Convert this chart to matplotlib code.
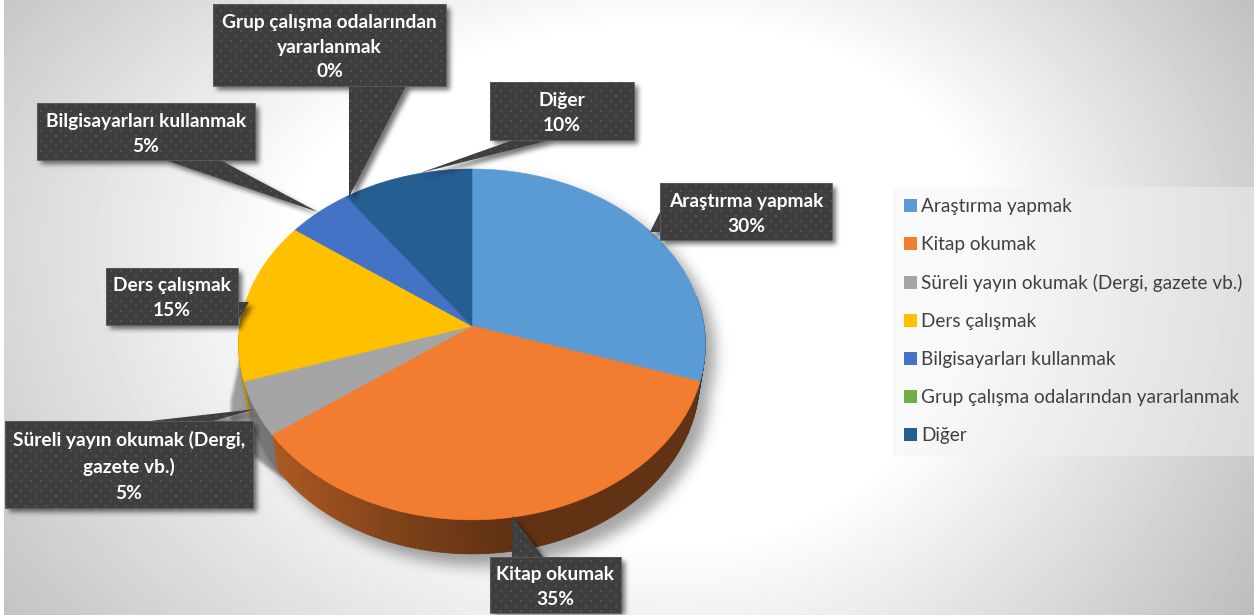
import numpy as np
import matplotlib
matplotlib.use("Agg")
import matplotlib.pyplot as plt
from matplotlib.patches import Polygon, Patch
from matplotlib.path import Path

# ---- data ----
categories = ["Araştırma yapmak", "Kitap okumak", "Süreli yayın okumak (Dergi, gazete vb.)",
              "Ders çalışmak", "Bilgisayarları kullanmak",
              "Grup çalışma odalarından yararlanmak", "Diğer"]
values = [30, 35, 5, 15, 5, 0, 10]
colors = ["#5B9BD5", "#F27D30", "#A5A5A5", "#FFC000", "#4472C4", "#70AD47", "#255E91"]
label_names = ["Araştırma yapmak", "Kitap okumak", "Süreli yayın okumak (Dergi,\ngazete vb.)",
               "Ders çalışmak", "Bilgisayarları kullanmak",
               "Grup çalışma odalarından\nyararlanmak", "Diğer"]

W, H = 1254, 615
plt.rcParams['font.family'] = ['Lato', 'DejaVu Sans']

# ---- layout: callout boxes (x0, y0, x1, y1), pointer polygon points ----
boxes = [(660, 183, 832, 240), (490, 557, 621, 613), (5, 421, 253, 508),
         (106, 268, 238, 325), (37, 103, 255, 160), (213, 4, 446, 86), (490, 82, 634, 140)]
pointers = [[(660, 212), (650, 232), (660, 232)],
            [(512, 557), (512, 516), (543, 557)],
            [(150, 421), (256, 409), (213, 421)],
            [(238, 302), (249, 302), (238, 320)],
            [(165, 160), (318, 212), (220, 160)],
            [(349, 86), (349, 197), (406, 86)],
            [(513, 140), (420, 173), (550, 140)]]
line_gap = [25, 25, 27, 25, 25, 24.5, 25]

# pie projection (tilted disc, seen in perspective)
px, py, bx, ay, k, depth, shrink = 472, 326, 232, 173.5, -0.105, 34, 0.975


def project(theta):
    u, v = np.sin(theta), -np.cos(theta)
    d = 1 + k * v
    return px + bx * u / d, py + ay * v / d


def gaussian(img, sigma, pad=40):
    big = np.pad(img, pad)
    fy = np.fft.fftfreq(big.shape[0])[:, None]
    fx = np.fft.rfftfreq(big.shape[1])[None, :]
    g = np.exp(-2 * (np.pi * sigma) ** 2 * (fx ** 2 + fy ** 2))
    out = np.fft.irfft2(np.fft.rfft2(big) * g, s=big.shape)
    return out[pad:-pad, pad:-pad]


yy, xx = np.mgrid[0:H, 0:W]
grid = np.column_stack([xx.ravel() + .5, yy.ravel() + .5])


def mask(points):
    return Path(points).contains_points(grid).reshape(H, W).astype(float)


fig = plt.figure(figsize=(W / 100, H / 100), dpi=100)
ax = fig.add_axes([0, 0, 1, 1])
ax.set_xlim(0, W)
ax.set_ylim(H, 0)
ax.axis("off")
ext = (0, W, H, 0)

# background radial gradient
dx = np.where(xx < 680, 0.78, 1.0) * (xx - 680)
dy = np.where(yy < 240, 1.4, 1.0) * (yy - 240)
dist = np.hypot(dx, dy)
bg = np.clip(255 - 0.173 * np.maximum(dist - 300, 0), 0, 255)
bg[:, :4] = 255
ax.imshow(bg, cmap="gray", vmin=0, vmax=255, extent=ext, aspect="auto", zorder=0,
          interpolation="nearest")

# pie geometry
fractions = np.array(values) / np.sum(values)
edges = np.concatenate([[0], np.cumsum(fractions)]) * 2 * np.pi
th = np.linspace(0, 2 * np.pi, 361)
cx, cy = project(th)

# soft shadow under the pie
body = np.column_stack([cx, cy])
low = np.column_stack([px + (cx - px) * shrink, cy + depth])
sh = np.clip(mask(body + [10, 10]) + mask(low + [10, 12]), 0, 1)
band = mask([(243, 345), (231, 400), (232, 440), (285, 480), (285, 345)])
shadow = np.clip(0.36 * gaussian(sh, 7) + 0.35 * gaussian(band, 1.5), 0, 1)
rgba = np.zeros((H, W, 4))
rgba[..., 3] = shadow
ax.imshow(rgba, extent=ext, aspect="auto", zorder=1)

# side wall of the pie
dark_x = np.array([238, 280, 400, 500, 710])
dark_f = np.array([0.74, 0.70, 0.52, 0.40, 0.40])
tt = np.radians(np.arange(80, 280, 1.0))
for t0, t1 in zip(tt[:-1], tt[1:]):
    mid = (t0 + t1) / 2
    idx = min(np.searchsorted(edges, mid, side="right") - 1, len(values) - 1)
    x0, y0 = project(t0)
    x1, y1 = project(t1)
    f = np.interp((x0 + x1) / 2, dark_x, dark_f)
    col = np.array(matplotlib.colors.to_rgb(colors[idx])) * f
    ax.add_patch(Polygon([(x0, y0), (x1, y1),
                          (px + (x1 - px) * shrink, y1 + depth),
                          (px + (x0 - px) * shrink, y0 + depth)],
                         closed=True, fc=col, ec=col, lw=0.6, zorder=2))

# top surface
for a0, a1, c in zip(edges[:-1], edges[1:], colors):
    if a1 <= a0:
        continue
    t = np.linspace(a0, a1, max(int(np.degrees(a1 - a0)), 2))
    xs, ys = project(t)
    ax.add_patch(Polygon(np.vstack([[(px, py)], np.column_stack([xs, ys])]), closed=True,
                         fc=c, ec=c, lw=0.4, zorder=3))

# callouts
shapes = []
for b in boxes:
    shapes.append([(b[0], b[1]), (b[2], b[1]), (b[2], b[3]), (b[0], b[3])])
cs = np.zeros((H, W))
for s, p in zip(shapes, pointers):
    cs = np.maximum(cs, mask(s))
    cs = np.maximum(cs, mask(p))
shifted = np.zeros_like(cs)
shifted[4:, 4:] = cs[:-4, :-4]
cs_sh = gaussian(shifted, 2.5)
rgba = np.zeros((H, W, 4))
rgba[..., 3] = np.clip(0.55 * cs_sh, 0, 1)
ax.imshow(rgba, extent=ext, aspect="auto", zorder=4)

pat = np.full((H, W, 3), 0x3E / 255.0)
dots = ((yy % 10 < 2) & (xx % 10 < 2)) | (((yy + 5) % 10 < 2) & ((xx + 5) % 10 < 2))
pat[dots] = 0x52 / 255.0
for s, p in zip(shapes, pointers):
    for poly in (s, p):
        clip = Polygon(poly, closed=True, transform=ax.transData, fc="none", ec="none")
        ax.add_patch(clip)
        im = ax.imshow(pat, extent=ext, aspect="auto", zorder=5, interpolation="bilinear")
        im.set_clip_path(clip)
    ax.add_patch(Polygon(s, closed=True, fc="none", ec="#5c5c5c", lw=0.6, zorder=5.5))

for name, val, b, gap in zip(label_names, values, boxes, line_gap):
    lines = name.split("\n") + [f"{val}%"]
    mid = (b[1] + b[3]) / 2
    for i, line in enumerate(lines):
        ax.text((b[0] + b[2]) / 2, mid + (i - (len(lines) - 1) / 2) * gap + 0.5, line, color="white",
                fontsize=13.8, fontweight="bold", ha="center", va="center_baseline", zorder=6)

# legend
handles = [Patch(fc=c, ec="none", label=n) for c, n in zip(colors, categories)]
leg = ax.legend(handles=handles, loc="upper left", bbox_to_anchor=(893 / W, 1 - 187 / H),
                bbox_transform=fig.transFigure, borderaxespad=0, fontsize=13.65,
                labelcolor="#404040", frameon=True, fancybox=False, facecolor="#f2f2f2",
                edgecolor="none", framealpha=0.45, handlelength=0.65, handleheight=0.65,
                handletextpad=0.25, labelspacing=1.107, borderpad=0.6)
leg.set_zorder(7)
ax.set_xlim(0, W)
ax.set_ylim(H, 0)
fig.savefig("out.png", dpi=100)
